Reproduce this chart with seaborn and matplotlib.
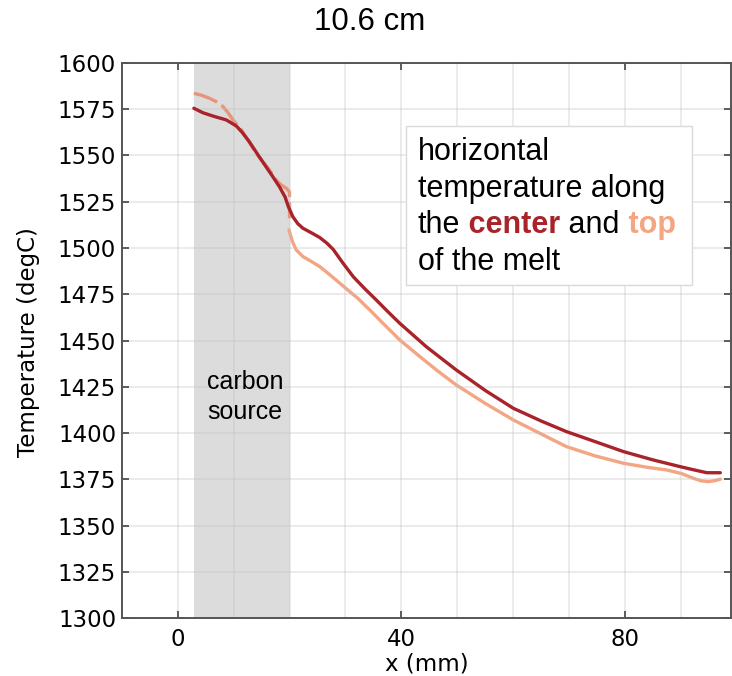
import matplotlib
matplotlib.use("Agg")
import matplotlib.pyplot as plt
import matplotlib.patches as mpatches
from matplotlib.text import Annotation
from matplotlib.ticker import MultipleLocator
import seaborn as sns

# 데이터
center_x = [2.9, 4.5, 6.3, 8.7, 10.5, 11.5, 12.8, 14.3, 15.8, 17.0, 18.2, 19.2,
            19.8, 20.6, 21.5, 22.4, 24.0, 25.4, 26.7, 27.8, 29.5, 31.4, 33.5,
            35.5, 37.6, 39.7, 44.5, 49.8, 55.0, 60.0, 65.0, 69.5, 75.0, 79.7,
            85.0, 89.8, 92.5, 94.6, 97.0]
center_t = [1575.4, 1573.0, 1571.2, 1569.1, 1565.8, 1562.5, 1557.4, 1550.5, 1543.8,
            1538.5, 1533.0, 1527.5, 1522.2, 1516.8, 1513.0, 1510.6, 1508.0, 1505.6,
            1502.5, 1499.2, 1492.0, 1484.4, 1477.8, 1471.9, 1465.5, 1459.3, 1446.5,
            1434.1, 1423.0, 1413.4, 1406.5, 1400.8, 1395.0, 1390.0, 1385.5, 1381.9,
            1380.0, 1378.6, 1378.6]

# top: 탄소원 구간 (점선)
top_src_x = [2.9, 4.3, 5.7, 7.0, 8.1, 9.0, 9.9, 11.4, 12.7, 14.0, 15.1, 16.2,
             17.6, 18.5, 19.4, 20.0, 20.0]
top_src_t = [1583.5, 1582.4, 1580.8, 1578.8, 1576.3, 1573.0, 1569.1, 1563.7, 1557.5,
             1551.1, 1547.0, 1543.0, 1536.7, 1534.0, 1532.2, 1530.3, 1516.0]

# top: 나머지 구간
top_x = [19.9, 20.5, 21.2, 22.4, 24.0, 25.4, 27.2, 29.0, 30.6, 32.2, 34.5, 36.7,
         39.7, 43.3, 46.5, 49.8, 55.0, 60.0, 65.0, 69.5, 74.5, 79.7, 84.0, 87.4,
         90.0, 92.2, 93.6, 94.9, 96.0, 97.0]
top_t = [1509.7, 1503.5, 1498.9, 1495.3, 1492.5, 1489.9, 1485.5, 1480.9, 1476.8,
         1472.8, 1466.0, 1459.3, 1450.3, 1441.3, 1433.5, 1426.0, 1416.0, 1407.1,
         1399.5, 1392.7, 1387.8, 1383.7, 1381.5, 1380.1, 1378.2, 1375.6, 1374.2,
         1373.8, 1374.3, 1375.1]

source_range = (2.9, 20.0)
x_ticks = [0, 40, 80]
y_ticks = list(range(1300, 1601, 25))

c_center = "#a8232a"
c_top = "#f4a582"
c_top_src = "#e5967a"

sns.set_theme(style="ticks", rc={"text.color": "black", "axes.labelcolor": "black",
                                 "xtick.color": "black", "ytick.color": "black"})
plt.rcParams["font.family"] = ["DejaVu Sans"]
arial = ["Liberation Sans", "DejaVu Sans"]

fig = plt.figure(figsize=(7.32, 6.76), dpi=100)
ax = fig.add_axes([121.7 / 732, 57.7 / 676, (731.5 - 121.7) / 732, 555.6 / 676])

# 탄소원 영역
ax.axvspan(*source_range, color="#dcdcdc", lw=0, zorder=0.5)

line_kw = dict(lw=2.4, sort=False, estimator=None, solid_joinstyle="round",
               solid_capstyle="round")
sns.lineplot(x=center_x, y=center_t, ax=ax, color=c_center, zorder=3, **line_kw)
sns.lineplot(x=top_src_x, y=top_src_t, ax=ax, color=c_top_src,
             linestyle=(0, (7.5, 1.6)), zorder=2, **line_kw)
sns.lineplot(x=top_x, y=top_t, ax=ax, color=c_top, zorder=2, **line_kw)

ax.set_xlim(-10, 99)
ax.set_ylim(1300, 1600)
ax.set_xticks(x_ticks)
ax.xaxis.set_minor_locator(MultipleLocator(10))
ax.set_yticks(y_ticks)

ax.grid(True, which="both", axis="x", color="#c0c0c0", alpha=0.32, lw=1.4, zorder=1)
ax.grid(True, which="major", axis="y", color="#c0c0c0", alpha=0.32, lw=1.4, zorder=1)
ax.set_axisbelow(False)

ax.tick_params(which="major", direction="in", length=5, width=1.2, color="#444444",
               labelcolor="black", top=True, right=True, labelsize=16.5, pad=4)
ax.tick_params(which="minor", length=0, top=False, right=False)
ax.tick_params(axis="x", pad=7)
for s in ax.spines.values():
    s.set_color("#555555")
    s.set_linewidth(1.4)
    s.set_zorder(5)

ax.set_xlabel("x (mm)", fontsize=16.5, labelpad=1)
ax.set_ylabel("Temperature (degC)", fontsize=16.5)
ax.yaxis.set_label_coords(-0.134, 0.497)

fig.text(0.505, 0.967, "10.6 cm", fontsize=22.5, ha="center", va="center",
         family=arial)

ax.text(12.05, 1419.5, "carbon\nsource", ha="center", va="center", fontsize=18,
        family=arial, linespacing=1.35, zorder=4)

# 설명 박스
box = mpatches.Rectangle((405.7 / 732, 1 - 285 / 676), 286 / 732, 159 / 676,
                         transform=fig.transFigure, facecolor="white",
                         edgecolor="#d9d9d9", lw=1, zorder=6)
fig.patches.append(box)

fs = 22
x0 = 418 / 732
base = [160, 196.7, 232.7, 270]
fig.text(x0, 1 - base[0] / 676, "horizontal", fontsize=fs, family=arial,
         va="baseline", zorder=7)
fig.text(x0, 1 - base[1] / 676, "temperature along", fontsize=fs, family=arial,
         va="baseline", zorder=7)
t = fig.text(x0, 1 - base[2] / 676, "the", fontsize=fs, family=arial,
             va="baseline", zorder=7)
parts = [(" center", c_center, "bold"), (" and", "black", "normal"),
         (" top", c_top, "bold")]
for s, c, w in parts:
    t = Annotation(s, xy=(1, 0), xycoords=t, va="bottom", ha="left", fontsize=fs,
                   family=arial, color=c, fontweight=w, zorder=7)
    fig.add_artist(t)
fig.text(x0, 1 - base[3] / 676, "of the melt", fontsize=fs, family=arial,
         va="baseline", zorder=7)

fig.savefig("out.png", dpi=100)
